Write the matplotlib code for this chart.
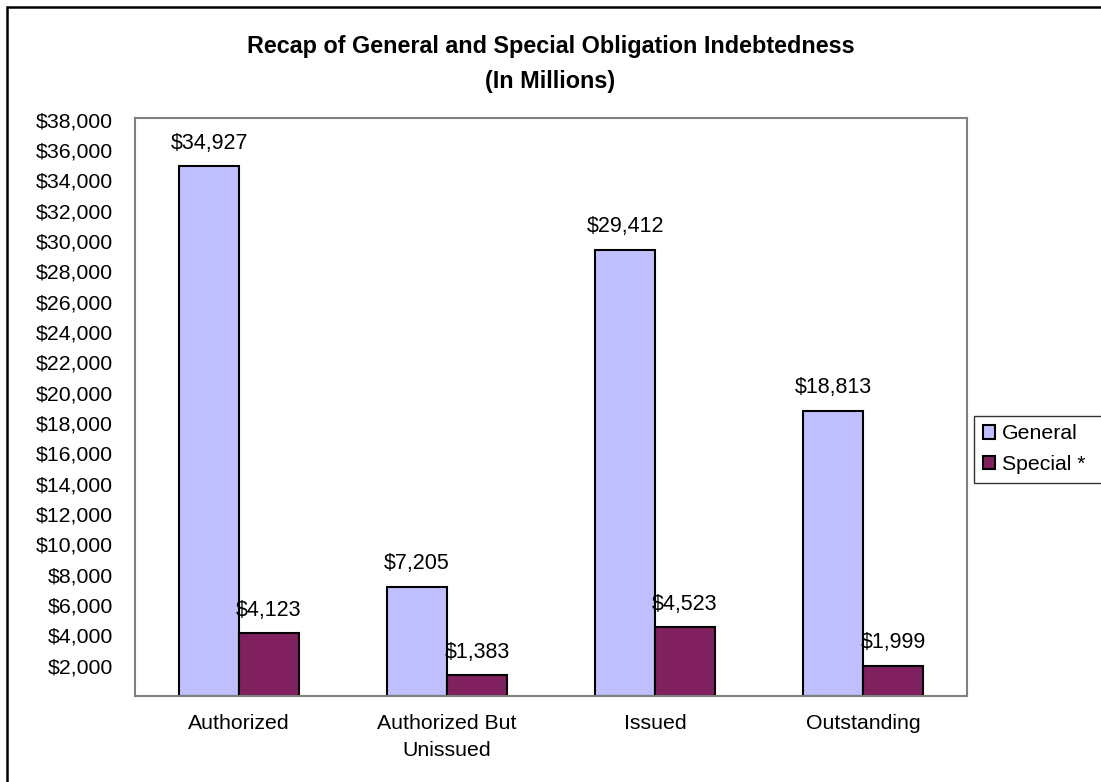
from matplotlib import pyplot as plt
from matplotlib.patches import Rectangle
import numpy as np

categories = ['Authorized', 'Authorized But\nUnissued', 'Issued', 'Outstanding']
general = [34927, 7205, 29412, 18813]
special = [4123, 1383, 4523, 1999]
series_names = ['General', 'Special *']
yticks = list(range(2000, 38001, 2000))


def main():
    plt.rcParams['font.family'] = ['Liberation Sans', 'DejaVu Sans']
    fig = plt.figure(figsize=(11.01, 7.82), dpi=100)
    ax = fig.add_axes([135 / 1101, 1 - 696 / 782, 832 / 1101, 578 / 782])

    x = np.arange(len(categories))
    w = 0.288
    b1 = ax.bar(x - w / 2, general, w, color='#C0C0FF', edgecolor='black',
                linewidth=1.5, label=series_names[0])
    b2 = ax.bar(x + w / 2, special, w, color='#80205F', edgecolor='black',
                linewidth=1.5, label=series_names[1])

    for bars, vals in [(b1, general), (b2, special)]:
        for bar, v in zip(bars, vals):
            ax.annotate(f'${v:,}', (bar.get_x() + bar.get_width() / 2, v),
                        xytext=(0, 9), textcoords='offset points',
                        ha='center', va='bottom', fontsize=15.5)

    ax.set_xlim(-0.5, len(categories) - 0.5)
    ax.set_ylim(0, 38100)
    ax.set_yticks(yticks)
    ax.set_yticklabels([f'${t:,}' for t in yticks])
    ax.set_xticks(x)
    ax.set_xticklabels(categories, linespacing=1.5)
    ax.tick_params(axis='y', length=0, pad=16, labelsize=15.3)
    ax.tick_params(axis='x', length=0, pad=13, labelsize=15.3)
    for spine in ax.spines.values():  # gray plot frame
        spine.set_color('#808080')
        spine.set_linewidth(1.5)

    fig.text(0.5, 1 - 64 / 782, 'Recap of General and Special Obligation Indebtedness\n(In Millions)',
             ha='center', va='center', fontsize=16.8, fontweight='bold', linespacing=1.65)

    leg = ax.legend(loc='upper left',
                    bbox_to_anchor=(974 / 1101, 1 - 482 / 782, 140 / 1101, 66 / 782),
                    bbox_transform=fig.transFigure, mode='expand', fontsize=15.3,
                    frameon=True, fancybox=False, handlelength=0.6, handleheight=0.6,
                    handletextpad=0.3, borderpad=0.4, labelspacing=0.55,
                    borderaxespad=0)
    leg.get_frame().set_edgecolor('black')
    leg.get_frame().set_linewidth(1.0)

    # outer border of the chart (only left and top visible)
    fig.patches.append(Rectangle((7 / 1101, -0.1), 1.2, 1.1 - 7 / 782,
                                 transform=fig.transFigure, fill=False,
                                 edgecolor='black', linewidth=1.8, clip_on=False))

    fig.savefig('out.png', dpi=100)


if __name__ == "__main__":
    main()
